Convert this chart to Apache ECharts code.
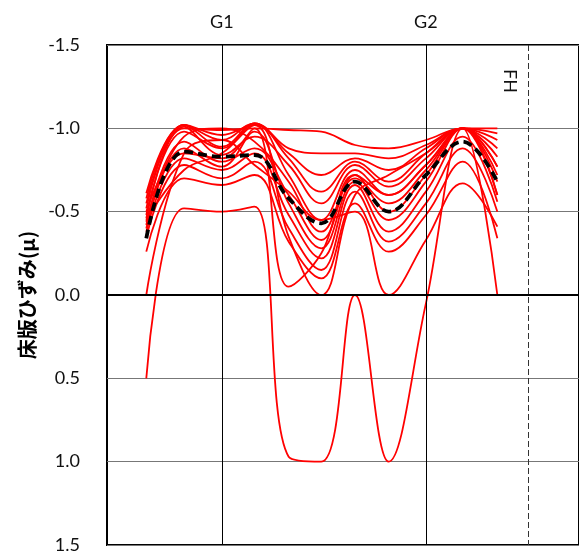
<!DOCTYPE html>
<html>
<head>
<meta charset="utf-8">
<script src="https://cdn.jsdelivr.net/npm/echarts@6/dist/echarts.min.js"></script>
<style>
html, body { margin: 0; padding: 0; background: #fff; }
#chart { width: 579px; height: 554px; }
</style>
</head>
<body>
<div id="chart"></div>
<script>
// 測点位置 (mm, G1 = 0)
const pointPos = [-740, -370, 0, 320, 655, 975, 1305, 1635, 2000, 2360, 2700]
const girderPos = [0, 2000]
const girderNames = ['G1', 'G2']
const fhPos = 3000
const fhName = 'FH'

// 床版ひずみ (各ケース)
const strain01 = [-0.55, -1.00, -0.99, -1.00, -0.99, -0.98, -0.90, -0.88, -0.93, -1.00, -1.00]
const strain02 = [-0.61, -1.02, -0.93, -1.03, -0.88, -0.85, -0.85, -0.82, -0.90, -1.00, -0.97]
const strain03 = [-0.58, -1.02, -0.96, -1.02, -0.85, -0.72, -0.82, -0.75, -0.88, -1.00, -0.93]
const strain04 = [-0.52, -1.02, -0.89, -1.03, -0.82, -0.62, -0.80, -0.68, -0.85, -1.00, -0.88]
const strain05 = [-0.46, -1.01, -0.84, -0.95, -0.78, -0.55, -0.78, -0.65, -0.82, -1.00, -0.83]
const strain06 = [-0.48, -0.98, -0.88, -1.03, -0.72, -0.45, -0.75, -0.60, -0.78, -1.00, -0.77]
const strain07 = [-0.44, -0.95, -1.00, -0.92, -0.68, -0.38, -0.70, -0.55, -0.75, -1.00, -0.72]
const strain08 = [-0.42, -0.92, -0.80, -0.88, -0.60, -0.33, -0.72, -0.50, -0.72, -1.00, -0.68]
const strain09 = [-0.40, -0.88, -0.77, -0.98, -0.55, -0.28, -0.68, -0.45, -0.68, -1.00, -0.60]
const strain10 = [-0.38, -0.82, -0.75, -0.85, -0.48, -0.22, -0.66, -0.38, -0.62, -0.95, -0.56]
const strain11 = [-0.35, -0.78, -0.70, -0.80, -0.40, -0.15, -0.62, -0.32, -0.55, -0.88, -0.50]
const strain12 = [-0.26, -0.70, -0.66, -0.72, -0.32, -0.10, -0.55, -0.26, -0.48, -0.80, -0.34]
const strain13 = [-0.50, -0.85, -0.82, -1.00, -0.05, -0.25, -0.72, -0.60, -0.78, -1.00, -0.60]
const strain14 = [-0.45, -0.75, -0.85, -1.02, -0.35, 0.00, -0.60, -0.72, -0.85, -1.00, -0.77]
const strain15 = [0.00, -0.85, -0.93, -0.78, -0.62, -0.45, -0.50, 0.00, -0.33, -0.67, -0.41]
const strain16 = [0.50, -0.52, -0.50, -0.53, 0.97, 1.00, 0.00, 1.00, 0.05, -1.00, 0.00]
// 平均
const strainAvg = [-0.34, -0.86, -0.83, -0.84, -0.58, -0.43, -0.68, -0.50, -0.72, -0.92, -0.68]

const allCases = [strain01, strain02, strain03, strain04, strain05, strain06, strain07, strain08,
  strain09, strain10, strain11, strain12, strain13, strain14, strain15, strain16]

const toPoints = (vals) => pointPos.map((x, i) => [x, vals[i]])

const font = 'Lato, "Noto Sans", sans-serif'

const redSeries = allCases.map((d) => ({
  type: 'line',
  data: toPoints(d),
  smooth: 0.4,
  showSymbol: false,
  silent: true,
  lineStyle: { color: '#ff0000', width: 1.8 },
  z: 3
}))

const avgSeries = {
  type: 'line',
  data: toPoints(strainAvg),
  smooth: 0.4,
  showSymbol: false,
  silent: true,
  lineStyle: { color: '#000', width: 3.8, type: [9, 5] },
  z: 4,
  markLine: {
    silent: true,
    symbol: 'none',
    animation: false,
    label: { show: false },
    data: [
      ...girderPos.map((x) => ({ xAxis: x, lineStyle: { color: '#000', width: 1, type: 'solid' } })),
      { xAxis: fhPos, lineStyle: { color: '#333', width: 1, type: [6, 3] } },
      { yAxis: 0, lineStyle: { color: '#000', width: 2, type: 'solid' } }
    ]
  }
}

const chart = echarts.init(document.getElementById('chart'))

chart.setOption({
  animation: false,
  grid: {
    left: 107,
    top: 45,
    right: -4,
    bottom: 8,
    show: true,
    borderColor: '#000',
    borderWidth: 2,
    backgroundColor: 'transparent'
  },
  xAxis: {
    type: 'value',
    position: 'top',
    min: -1125,
    max: 3500,
    axisLine: { show: false },
    axisTick: { show: false },
    splitLine: { show: false },
    axisLabel: {
      customValues: girderPos,
      formatter: (v) => girderNames[girderPos.indexOf(v)] || '',
      fontFamily: font,
      fontSize: 18,
      color: '#111',
      margin: 14
    }
  },
  yAxis: {
    type: 'value',
    inverse: true,
    min: -1.5,
    max: 1.5,
    interval: 0.5,
    name: '床版ひずみ(μ)',
    nameLocation: 'middle',
    nameRotate: 90,
    nameGap: 67,
    nameTextStyle: {
      fontFamily: '"Noto Sans CJK JP", sans-serif',
      fontWeight: 'bold',
      fontSize: 20,
      color: '#000'
    },
    axisLine: { show: false },
    axisTick: { show: false },
    axisLabel: {
      formatter: (v) => v.toFixed(1),
      fontFamily: font,
      fontSize: 18,
      color: '#111',
      margin: 27
    },
    splitLine: { lineStyle: { color: '#777', width: 1 } }
  },
  series: [...redSeries, avgSeries]
})

// FH ラベル (縦書き)
const fhTop = chart.convertToPixel({ xAxisIndex: 0, yAxisIndex: 0 }, [fhPos, -1.5])
chart.setOption({
  graphic: [{
    type: 'text',
    x: fhTop[0] - 18,
    y: fhTop[1] + 36,
    rotation: -Math.PI / 2,
    silent: true,
    style: {
      text: fhName,
      fontFamily: font,
      fontSize: 18,
      fill: '#111',
      align: 'center',
      verticalAlign: 'middle'
    }
  }]
})
</script>
</body>
</html>
